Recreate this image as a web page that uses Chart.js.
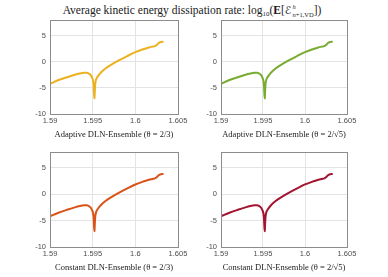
<!DOCTYPE html>
<html>
<head>
<meta charset="utf-8">
<script src="https://cdn.jsdelivr.net/npm/chart.js@4/dist/chart.umd.min.js"></script>
<style>
  html, body { margin: 0; padding: 0; background: #fff; }
  #wrap { position: relative; width: 388px; height: 277px; overflow: hidden; }
  #title { position: absolute; left: 0; top: 3px; width: 384px; text-align: center; white-space: nowrap;
           font-family: "Liberation Serif", "DejaVu Serif", serif; font-size: 11.5px; font-weight: normal;
           color: #1a1a1a; line-height: 14px; }
  #title .sub10 { font-size: 7px; vertical-align: -2px; }
  #title .scr { font-family: "DejaVu Serif", "DejaVu Sans", serif; font-size: 11px; font-style: italic; }
  #title .ss { display: inline-block; vertical-align: -3px; line-height: 8px; font-size: 6.5px; text-align: left; margin-left: 1px; }
  #title .ss span { display: block; }
  .panel { position: absolute; }
</style>
</head>
<body>
<div id="wrap">
  <div id="title">Average kinetic energy dissipation rate: log<span class="sub10">10</span>(<b>E</b>[<span class="scr">ℰ</span><span class="ss"><span><i>h</i></span><span><i>n</i>+1,VD</span></span>])</div>
  <div class="panel" style="left:0;top:0;width:194px;height:140px"><canvas id="c1"></canvas></div>
  <div class="panel" style="left:194px;top:0;width:194px;height:140px"><canvas id="c2"></canvas></div>
  <div class="panel" style="left:0;top:140px;width:194px;height:137px"><canvas id="c3"></canvas></div>
  <div class="panel" style="left:194px;top:140px;width:194px;height:137px"><canvas id="c4"></canvas></div>
</div>
<script>
// ---- data ----
const xValues = [1.5900, 1.5910, 1.5920, 1.5930, 1.5935, 1.5940, 1.5943, 1.5946, 1.5948, 1.5950,
                 1.5951, 1.5952, 1.5953, 1.5954, 1.5956, 1.5960, 1.5965, 1.5970, 1.5980, 1.5990,
                 1.6000, 1.6010, 1.6015, 1.6020, 1.6023, 1.6025, 1.6027, 1.6029, 1.6033];
const adaptiveTheta23   = [-4.2, -3.5, -2.95, -2.45, -2.25, -2.1, -2.1, -2.3, -2.6, -3.3,
                           -4.2, -7.0, -4.3, -3.4, -2.8, -2.0, -1.3, -0.75, 0.2, 1.05,
                           1.85, 2.45, 2.7, 2.9, 3.0, 3.2, 3.55, 3.75, 3.85];
const adaptiveTheta2s5  = [-4.2, -3.5, -2.95, -2.45, -2.25, -2.1, -2.1, -2.3, -2.6, -3.3,
                           -4.2, -7.0, -4.3, -3.4, -2.8, -2.0, -1.3, -0.75, 0.2, 1.05,
                           1.85, 2.45, 2.7, 2.9, 3.0, 3.2, 3.55, 3.75, 3.85];
const constantTheta23   = [-4.2, -3.5, -2.95, -2.45, -2.25, -2.1, -2.1, -2.3, -2.6, -3.3,
                           -4.2, -7.0, -4.3, -3.4, -2.8, -2.0, -1.3, -0.75, 0.2, 1.05,
                           1.85, 2.45, 2.7, 2.9, 3.0, 3.2, 3.55, 3.75, 3.85];
const constantTheta2s5  = [-4.2, -3.5, -2.95, -2.45, -2.25, -2.1, -2.1, -2.3, -2.6, -3.3,
                           -4.2, -7.0, -4.3, -3.4, -2.8, -2.0, -1.3, -0.75, 0.2, 1.05,
                           1.85, 2.45, 2.7, 2.9, 3.0, 3.2, 3.55, 3.75, 3.85];
const xTicks = [1.59, 1.595, 1.6, 1.605];
const xTickLabels = ["1.59", "1.595", "1.6", "1.605"];
const yTicks = [-10, -5, 0, 5];
const yTickLabels = ["-10", "-5", "0", "5"];
const panelTitles = [
  "Adaptive DLN-Ensemble (\u03B8 = 2/3)",
  "Adaptive DLN-Ensemble (\u03B8 = 2/\u221A5)",
  "Constant DLN-Ensemble (\u03B8 = 2/3)",
  "Constant DLN-Ensemble (\u03B8 = 2/\u221A5)"
];

const boxPlugin = {
  id: 'box',
  afterDraw(chart) {
    const a = chart.chartArea, ctx = chart.ctx;
    ctx.save();
    ctx.strokeStyle = '#8c8c8c';
    ctx.lineWidth = 1;
    ctx.strokeRect(Math.round(a.left) + 0.5, Math.round(a.top) + 0.5,
                   Math.round(a.right - a.left), Math.round(a.bottom - a.top));
    ctx.restore();
  }
};

function makePanel(id, yvals, color, title, cfg) {
  const pts = xValues.map((x, i) => ({ x: x, y: yvals[i] }));
  new Chart(document.getElementById(id), {
    type: 'line',
    data: { datasets: [{ data: pts, borderColor: color, borderWidth: 2, pointRadius: 0,
                         tension: 0.3, fill: false }] },
    options: {
      responsive: true, maintainAspectRatio: false, animation: false,
      devicePixelRatio: 1,
      layout: { padding: { left: 0, top: cfg.pt, right: cfg.pr, bottom: cfg.pb } },
      plugins: { legend: { display: false }, tooltip: { enabled: false } },
      scales: {
        x: {
          type: 'linear', min: 1.59, max: 1.605,
          afterBuildTicks: s => { s.ticks = xTicks.map(v => ({ value: v })); },
          afterFit: s => { s.height = 26; },
          ticks: { callback: (v, i) => xTickLabels[i], color: '#4d4d4d', padding: 2,
                   maxRotation: 0, autoSkip: false,
                   font: { family: 'Liberation Sans, Arial, sans-serif', size: 7.5 } },
          grid: { color: '#e3e3e3', drawTicks: false, lineWidth: 1 },
          border: { display: false },
          title: { display: true, text: title, color: '#222', padding: { top: 1, bottom: 0 },
                   font: { family: 'Liberation Serif, DejaVu Serif, serif', size: 8.5 } }
        },
        y: {
          type: 'linear', min: -10, max: 8,
          afterBuildTicks: s => { s.ticks = yTicks.map(v => ({ value: v })); },
          afterFit: s => { s.width = cfg.ya; },
          ticks: { callback: (v, i) => yTickLabels[i], color: '#4d4d4d', padding: 4,
                   font: { family: 'Liberation Sans, Arial, sans-serif', size: 7.5 } },
          grid: { color: '#e3e3e3', drawTicks: false, lineWidth: 1 },
          border: { display: false }
        }
      }
    },
    plugins: [boxPlugin]
  });
}

makePanel('c1', adaptiveTheta23,  '#EDB120', panelTitles[0], { pt: 20, pr: 16, pb: 0, ya: 50 });
makePanel('c2', adaptiveTheta2s5, '#77AC30', panelTitles[1], { pt: 20, pr: 41, pb: 0, ya: 27 });
makePanel('c3', constantTheta23,  '#D95319', panelTitles[2], { pt: 12, pr: 16, pb: 4, ya: 50 });
makePanel('c4', constantTheta2s5, '#A2142F', panelTitles[3], { pt: 12, pr: 41, pb: 4, ya: 27 });
</script>
</body>
</html>
